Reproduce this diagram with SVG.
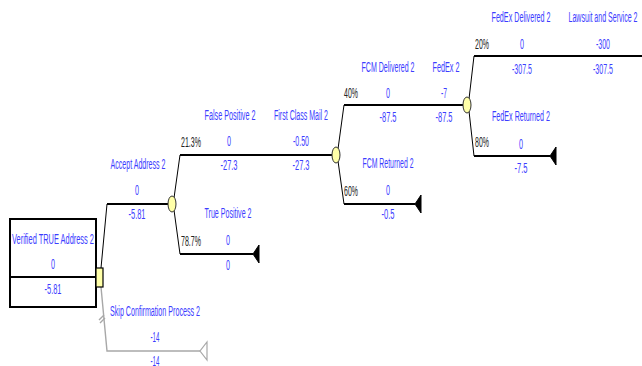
<svg xmlns="http://www.w3.org/2000/svg" width="642" height="366" viewBox="0 0 642 366">
  <style>
    text { font-family: "Liberation Sans", Arial, sans-serif; font-size: 14px; }
    .lbl { fill: #3c3cff; text-anchor: middle; }
    .pct { fill: #222222; }
    .branch { stroke: #000000; stroke-width: 2.2; fill: none; }
    .fan { stroke: #000000; stroke-width: 1; fill: none; }
    .grey { stroke: #a8a8a8; stroke-width: 1.4; fill: none; }
    .chance { fill: #ffffa8; stroke: #333333; stroke-width: 1; }
    .decision { fill: #ffffa8; stroke: #000000; stroke-width: 1.2; }
    .terminal { fill: #000000; stroke: #000000; stroke-width: 1; }
  </style>

  <!-- connectors: fan-out diagonals and horizontal branch lines -->
  <g id="connectors">
    <path class="fan" d="M101 268 L107 204"/>
    <path class="branch" d="M107 204 H168"/>
    <path class="grey" d="M101 287 L107 351 H200"/>
    <path class="grey" d="M99 320 L104 315 M100 323 L105 318"/>

    <path class="fan" d="M174 198 L180 155"/>
    <path class="branch" d="M180 155 H332"/>
    <path class="fan" d="M174 210 L180 254"/>
    <path class="branch" d="M180 254 H253"/>

    <path class="fan" d="M338 149 L344 105"/>
    <path class="branch" d="M344 105 H463"/>
    <path class="fan" d="M338 161 L344 204"/>
    <path class="branch" d="M344 204 H415"/>

    <path class="fan" d="M469 99 L474 56"/>
    <path class="branch" d="M474 56 H642"/>
    <path class="fan" d="M469 111 L474 156"/>
    <path class="branch" d="M474 156 H550"/>
  </g>

  <!-- root decision -->
  <g id="root">
    <rect x="10" y="219" width="86" height="88" fill="#ffffff" stroke="#000000" stroke-width="2"/>
    <line x1="10" y1="277" x2="97" y2="277" stroke="#000000" stroke-width="2"/>
    <text class="lbl" x="53" y="244" textLength="82" lengthAdjust="spacingAndGlyphs">Verified TRUE Address 2</text>
    <text class="lbl" x="53" y="269" textLength="4" lengthAdjust="spacingAndGlyphs">0</text>
    <text class="lbl" x="53" y="294" textLength="17" lengthAdjust="spacingAndGlyphs">-5.81</text>
    <rect class="decision" x="96" y="268" width="7" height="19"/>
  </g>

  <g id="accept-address">
    <text class="lbl" x="138" y="169" textLength="55" lengthAdjust="spacingAndGlyphs">Accept Address 2</text>
    <text class="lbl" x="137" y="195" textLength="4" lengthAdjust="spacingAndGlyphs">0</text>
    <text class="lbl" x="137" y="219" textLength="17" lengthAdjust="spacingAndGlyphs">-5.81</text>
    <ellipse class="chance" cx="172" cy="204" rx="4" ry="8"/>
  </g>

  <g id="skip-confirmation">
    <text class="lbl" x="155" y="316" textLength="90" lengthAdjust="spacingAndGlyphs">Skip Confirmation Process 2</text>
    <text class="lbl" x="155" y="342" textLength="9" lengthAdjust="spacingAndGlyphs">-14</text>
    <text class="lbl" x="155" y="366" textLength="9" lengthAdjust="spacingAndGlyphs">-14</text>
    <polygon points="207,342 207,360 200,351" fill="#ffffff" stroke="#a8a8a8" stroke-width="1.2"/>
  </g>

  <g id="false-positive">
    <text class="pct" x="181" y="147" textLength="20" lengthAdjust="spacingAndGlyphs">21.3%</text>
    <text class="lbl" x="230" y="120" textLength="51" lengthAdjust="spacingAndGlyphs">False Positive 2</text>
    <text class="lbl" x="229" y="146" textLength="4" lengthAdjust="spacingAndGlyphs">0</text>
    <text class="lbl" x="229" y="170" textLength="17" lengthAdjust="spacingAndGlyphs">-27.3</text>
  </g>

  <g id="first-class-mail">
    <text class="lbl" x="301" y="120" textLength="54" lengthAdjust="spacingAndGlyphs">First Class Mail 2</text>
    <text class="lbl" x="301" y="146" textLength="16" lengthAdjust="spacingAndGlyphs">-0.50</text>
    <text class="lbl" x="301" y="170" textLength="17" lengthAdjust="spacingAndGlyphs">-27.3</text>
    <ellipse class="chance" cx="336" cy="155" rx="4" ry="8"/>
  </g>

  <g id="true-positive">
    <text class="pct" x="181" y="246" textLength="20" lengthAdjust="spacingAndGlyphs">78.7%</text>
    <text class="lbl" x="228" y="218" textLength="47" lengthAdjust="spacingAndGlyphs">True Positive 2</text>
    <text class="lbl" x="228" y="245" textLength="4" lengthAdjust="spacingAndGlyphs">0</text>
    <text class="lbl" x="228" y="270" textLength="4" lengthAdjust="spacingAndGlyphs">0</text>
    <polygon class="terminal" points="259,245 259,263 253,254"/>
  </g>

  <g id="fcm-delivered">
    <text class="pct" x="344" y="98" textLength="14" lengthAdjust="spacingAndGlyphs">40%</text>
    <text class="lbl" x="388" y="72" textLength="53" lengthAdjust="spacingAndGlyphs">FCM Delivered 2</text>
    <text class="lbl" x="388" y="98" textLength="4" lengthAdjust="spacingAndGlyphs">0</text>
    <text class="lbl" x="388" y="122" textLength="17" lengthAdjust="spacingAndGlyphs">-87.5</text>
  </g>

  <g id="fedex">
    <text class="lbl" x="446" y="72" textLength="27" lengthAdjust="spacingAndGlyphs">FedEx 2</text>
    <text class="lbl" x="444" y="98" textLength="6" lengthAdjust="spacingAndGlyphs">-7</text>
    <text class="lbl" x="444" y="122" textLength="17" lengthAdjust="spacingAndGlyphs">-87.5</text>
    <ellipse class="chance" cx="467" cy="105" rx="4" ry="8"/>
  </g>

  <g id="fcm-returned">
    <text class="pct" x="344" y="196" textLength="14" lengthAdjust="spacingAndGlyphs">60%</text>
    <text class="lbl" x="388" y="168" textLength="51" lengthAdjust="spacingAndGlyphs">FCM Returned 2</text>
    <text class="lbl" x="388" y="195" textLength="4" lengthAdjust="spacingAndGlyphs">0</text>
    <text class="lbl" x="388" y="219" textLength="13" lengthAdjust="spacingAndGlyphs">-0.5</text>
    <polygon class="terminal" points="421,195 421,213 415,204"/>
  </g>

  <g id="fedex-delivered">
    <text class="pct" x="475" y="49" textLength="14" lengthAdjust="spacingAndGlyphs">20%</text>
    <text class="lbl" x="521" y="22" textLength="59" lengthAdjust="spacingAndGlyphs">FedEx Delivered 2</text>
    <text class="lbl" x="522" y="49" textLength="4" lengthAdjust="spacingAndGlyphs">0</text>
    <text class="lbl" x="522" y="74" textLength="20" lengthAdjust="spacingAndGlyphs">-307.5</text>
  </g>

  <g id="lawsuit-and-service">
    <text class="lbl" x="603" y="22" textLength="69" lengthAdjust="spacingAndGlyphs">Lawsuit and Service 2</text>
    <text class="lbl" x="603" y="49" textLength="14" lengthAdjust="spacingAndGlyphs">-300</text>
    <text class="lbl" x="603" y="74" textLength="20" lengthAdjust="spacingAndGlyphs">-307.5</text>
  </g>

  <g id="fedex-returned">
    <text class="pct" x="475" y="147" textLength="14" lengthAdjust="spacingAndGlyphs">80%</text>
    <text class="lbl" x="521" y="121" textLength="58" lengthAdjust="spacingAndGlyphs">FedEx Returned 2</text>
    <text class="lbl" x="521" y="149" textLength="4" lengthAdjust="spacingAndGlyphs">0</text>
    <text class="lbl" x="521" y="173" textLength="13" lengthAdjust="spacingAndGlyphs">-7.5</text>
    <polygon class="terminal" points="556,147 556,165 550,156"/>
  </g>
</svg>
